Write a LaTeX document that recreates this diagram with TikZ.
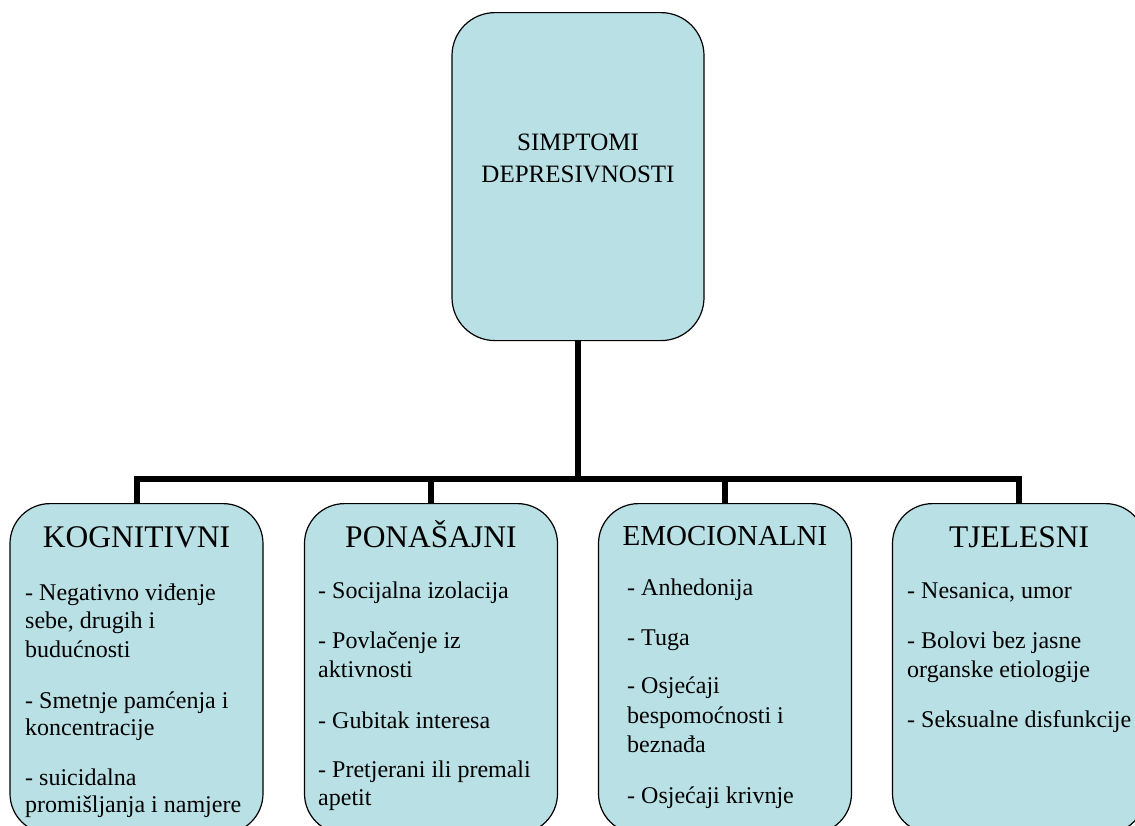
\documentclass[tikz,border=0pt]{standalone}
\usepackage{fontspec}
\setmainfont{Liberation Serif}
\definecolor{boxfill}{RGB}{185,224,228}
\begin{document}
\begin{tikzpicture}[x=1pt,y=-1pt,
  box/.style={draw=black, line width=1.2pt, fill=boxfill, rounded corners=40pt,
    rectangle, inner sep=0pt, minimum width=253pt, minimum height=330pt, anchor=north},
  conn/.style={draw=black, line width=6pt},
  title/.style={font=\fontsize{31.5}{31.5}\selectfont, anchor=base, inner sep=0pt},
  stitle/.style={font=\fontsize{29}{29}\selectfont, anchor=base, inner sep=0pt},
  toptext/.style={font=\fontsize{25}{30}\selectfont, anchor=base, inner sep=0pt},
  body/.style={font=\fontsize{24}{29}\selectfont, anchor=base west, inner sep=0pt}]
\useasboundingbox (0,0) rectangle (1135,825);

% boxes
\node[box, rounded corners=43pt, minimum width=252pt, minimum height=328pt] (top) at (578,12) {};
\node[box] (kog) at (136.5,503) {};
\node[box] (pon) at (431,503) {};
\node[box] (emo) at (725,503) {};
\node[box] (tje) at (1019,503) {};

% connectors
\coordinate (bus) at (578,479);
\draw[conn] (top.south) -- (bus);
\draw[conn] (kog.north) |- (bus) -| (tje.north);
\draw[conn] (pon.north) -- (pon.north |- bus);
\draw[conn] (emo.north) -- (emo.north |- bus);

% top box text
\node[toptext] (t1) at (578,150) {SIMPTOMI};
\node[toptext] (t2) at (578,182) {DEPRESIVNOSTI};

% titles
\node[title] (kogT) at (136.5,547) {KOGNITIVNI};
\node[title] (ponT) at (431,547) {PONAŠAJNI};
\node[stitle] (emoT) at (725,545) {EMOCIONALNI};
\node[title] (tjeT) at (1019,547) {TJELESNI};

% KOGNITIVNI
\node[body] (k1) at (25,600) {- Negativno viđenje};
\node[body] (k2) at (25,628) {sebe, drugih i};
\node[body] (k3) at (25,657) {budućnosti};
\node[body] (k4) at (25,708) {- Smetnje pamćenja i};
\node[body] (k5) at (25,735) {koncentracije};
\node[body] (k6) at (25,785) {- suicidalna};
\node[body] (k7) at (25,812) {promišljanja i namjere};

% PONASAJNI
\node[body] (p1) at (318,598) {- Socijalna izolacija};
\node[body] (p2) at (318,648) {- Povlačenje iz};
\node[body] (p3) at (318,677) {aktivnosti};
\node[body] (p4) at (318,728) {- Gubitak interesa};
\node[body] (p5) at (318,777) {- Pretjerani ili premali};
\node[body] (p6) at (318,805) {apetit};

% EMOCIONALNI
\node[body] (e1) at (627,595) {- Anhedonija};
\node[body] (e2) at (627,645) {- Tuga};
\node[body] (e3) at (627,693) {- Osjećaji};
\node[body] (e4) at (627,723) {bespomoćnosti i};
\node[body] (e5) at (627,752) {beznađa};
\node[body] (e6) at (627,803) {- Osjećaji krivnje};

% TJELESNI
\node[body] (j1) at (907,598) {- Nesanica, umor};
\node[body] (j2) at (907,648) {- Bolovi bez jasne};
\node[body] (j3) at (907,677) {organske etiologije};
\node[body] (j4) at (907,727) {- Seksualne disfunkcije};
\end{tikzpicture}
\end{document}
